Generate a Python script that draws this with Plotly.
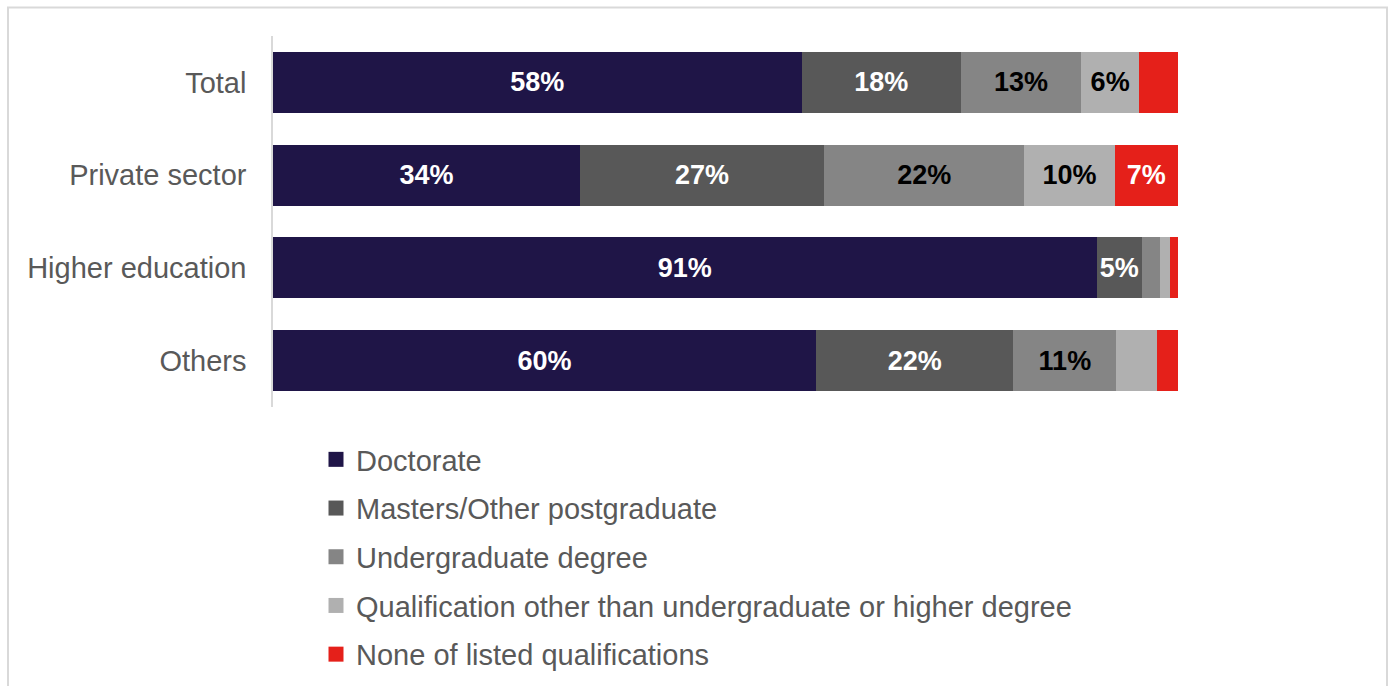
import plotly.graph_objects as go

# Share of staff by highest qualification held, per sector (percent)
sectors = ["Total", "Private sector", "Higher education", "Others"]
qualifications = [
    "Doctorate",
    "Masters/Other postgraduate",
    "Undergraduate degree",
    "Qualification other than undergraduate or higher degree",
    "None of listed qualifications",
]
doctorate = [58.4, 33.9, 91.0, 60.0]
masters = [17.6, 27.0, 5.0, 21.8]
undergraduate = [13.3, 22.1, 2.0, 11.4]
other_qual = [6.4, 10.0, 1.1, 4.5]
none_listed = [4.3, 7.0, 0.9, 2.3]

series = [doctorate, masters, undergraduate, other_qual, none_listed]
colors = ["#1f1547", "#585858", "#858585", "#b0b0b0", "#e5201a"]
label_colors = ["white", "white", "black", "black", "white"]

W, H = 1394, 686
L, R, T, B = 273, 216, 36, 279
pw, ph = W - L - R, H - T - B

fig = go.Figure()
for name, vals, col, tcol in zip(qualifications, series, colors, label_colors):
    labels = [f"{v:.0f}%" if v >= 5 else "" for v in vals]
    fig.add_trace(go.Bar(
        y=sectors, x=vals, orientation="h", name=name,
        marker=dict(color=col, line=dict(width=0)),
        text=labels, textposition="inside", insidetextanchor="middle",
        textangle=0, constraintext="none",
        textfont=dict(family="Liberation Sans, Arial, sans-serif", size=27,
                      color=tcol, weight="bold"),
        showlegend=False, hoverinfo="skip",
    ))
    # legend entry with a square swatch
    fig.add_trace(go.Scatter(
        x=[None], y=[None], mode="markers", name=name, legendgroup=name,
        marker=dict(symbol="square", size=15, color=col),
        showlegend=True,
    ))

fig.update_layout(
    width=W, height=H,
    margin=dict(l=L, r=R, t=T, b=B, pad=0),
    barmode="stack", bargap=0.34,
    paper_bgcolor="white", plot_bgcolor="white",
    font=dict(family="Liberation Sans, Arial, sans-serif", color="#595959", size=29),
    uniformtext=dict(minsize=27, mode="show"),
    xaxis=dict(range=[0, 100], visible=False, fixedrange=True),
    yaxis=dict(
        categoryorder="array", categoryarray=sectors, autorange="reversed",
        showline=True, linecolor="#d9d9d9", linewidth=1.5,
        showgrid=False, zeroline=False, ticks="",
        tickfont=dict(size=29, color="#595959"),
        ticklabelstandoff=19,
    ),
    legend=dict(
        orientation="v", xref="paper", x=(316 - L) / pw, xanchor="left",
        yref="container", y=1 - 434 / H, yanchor="top",
        font=dict(size=29, color="#595959"),
        traceorder="grouped", tracegroupgap=8,
        itemclick=False, itemdoubleclick=False,
        bgcolor="rgba(0,0,0,0)",
    ),
    shapes=[dict(
        type="rect", xref="paper", yref="paper",
        x0=(8 - L) / pw, x1=(1387 - L) / pw,
        y0=(H - B - 720) / ph, y1=(H - B - 7.5) / ph,
        line=dict(color="#d9d9d9", width=2), fillcolor="rgba(0,0,0,0)",
        layer="below",
    )],
)

fig.write_html("out.html")
